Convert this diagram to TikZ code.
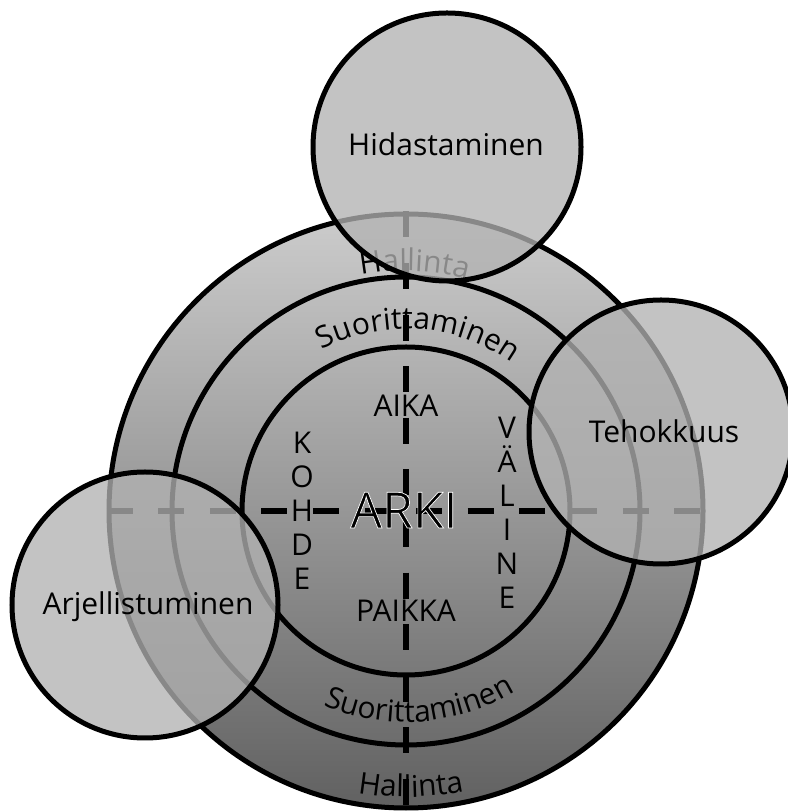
\documentclass[tikz,border=0pt]{standalone}
\usepackage{fontspec}
\setmainfont{Open Sans}
\usetikzlibrary{positioning, calc, decorations.text}
\newcommand{\lblfont}{\fontsize{30}{34}\selectfont}
% thin white rim round the big word
\newcommand{\rimtext}[1]{{\special{pdf:code 2 Tr 0.7 w 1 1 1 RG}#1\special{pdf:code 0 Tr 0 0 0 RG}}}

\begin{document}
\begin{tikzpicture}[
    x=1pt, y=1pt,
    every node/.style={font=\lblfont},
    ring/.style={circle, draw, line width=5pt, inner sep=0pt, minimum size=#1},
    disc/.style={ring=#1, top color=black!20, bottom color=black!62},
    sat/.style={circle, draw, line width=5pt, inner sep=0pt, minimum size=#1, fill=black!30, fill opacity=0.77, draw opacity=1},
    satlabel/.style={anchor=base, inner sep=0pt},
    axis/.style={line width=6pt, dash pattern=on 26pt off 25.6pt},
    stack/.style={align=center, inner sep=0pt},
    arcword/.style={decorate, decoration={text along path, text align=center, text={|\lblfont|#1}}},
]
\path[use as bounding box, fill=white] (0,0) rectangle (787,811);

% concentric rings
\coordinate (c) at (406,300);
\node[disc=594pt] (outer) at (c) {};
\node[ring=468pt] (middle) at (c) {};
\node[ring=328pt] (inner) at (c) {};

% cross
\draw[axis] (outer.north) -- (outer.south);
\draw[axis] (outer.west) -- (outer.east);

% inner words
\node[anchor=base, inner sep=0pt] (aika) at ($(c)+(0,94)$) {AIKA};
\node[anchor=base, inner sep=0pt] (paikka) at ($(c)+(0,-111)$) {PAIKKA};
\node[anchor=base, inner sep=0pt, font=\fontsize{50}{56}\selectfont] (arki) at ($(c)+(-2,-17)$) {\rimtext{ARKI}};
\node[stack] (kohde) at ($(c)+(-104,0)$) {K\\O\\H\\D\\E};
\node[stack] (valine) at ($(c)+(101,-2)$) {V\\Ä\\L\\I\\N\\E};

% words along the rings
\path[arcword=Suorittaminen] ($(c)+(146:182)$) arc[start angle=146, end angle=26, radius=182];
\path[arcword=Suorittaminen] ($(c)+(214:211)$) arc[start angle=214, end angle=334, radius=211];
\path[arcword=Hallinta] ($(c)+(148:240)$) arc[start angle=148, end angle=28, radius=240];
\path[arcword=Hallinta] ($(c)+(211:286)$) arc[start angle=211, end angle=331, radius=286];

% outer circles
\node[sat=268pt] (hid) at (447,664) {};
\node[sat=264pt] (teh) at (661,379) {};
\node[sat=266pt] (arj) at (145,206) {};
\node[satlabel] (hidtext) at (446,655) {Hidastaminen};
\node[satlabel] (tehtext) at (664,368) {Tehokkuus};
\node[satlabel] (arjtext) at (148,196) {Arjellistuminen};

\end{tikzpicture}
\end{document}
